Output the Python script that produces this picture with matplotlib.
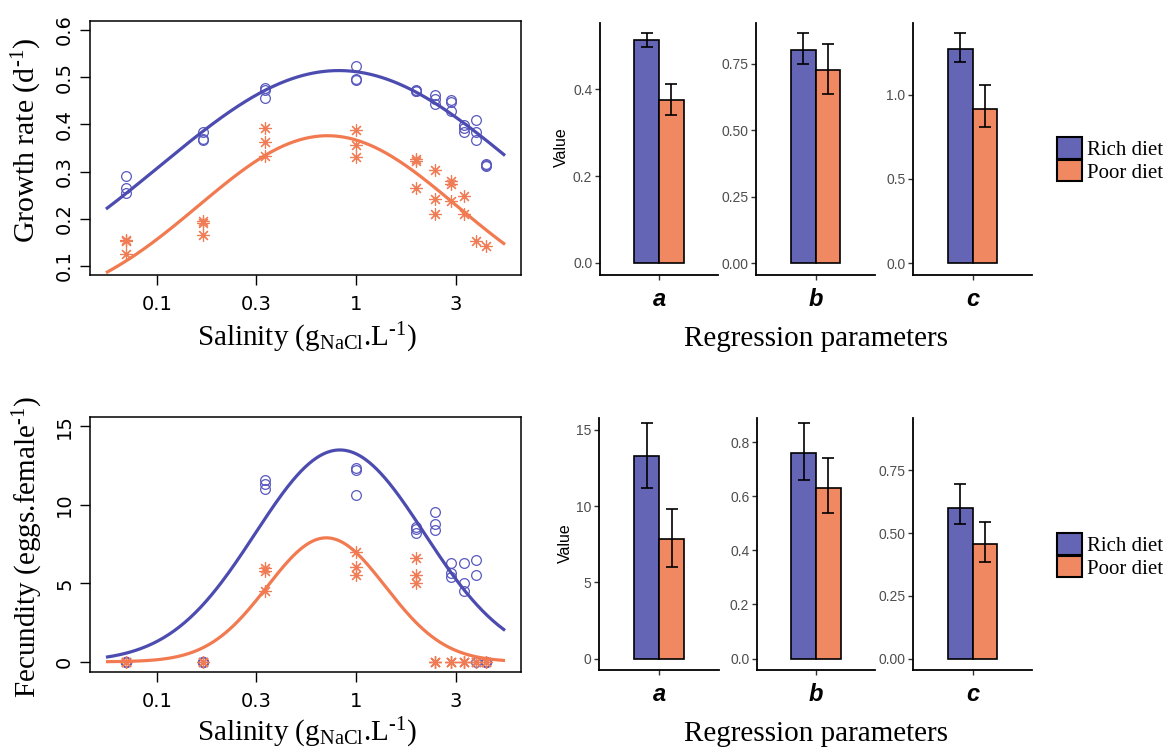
import numpy as np
import matplotlib
matplotlib.use("Agg")
import matplotlib.pyplot as plt
from matplotlib.patches import Patch

plt.rcParams["mathtext.fontset"] = "custom"
plt.rcParams["mathtext.rm"] = "Liberation Serif"
plt.rcParams["mathtext.it"] = "Liberation Serif:italic"

# ---------------- data ----------------
salinity = [0.07, 0.17, 0.35, 1, 2, 2.5, 3, 3.5, 4, 4.5]

growth_rich = [[0.290, 0.265, 0.255], [0.384, 0.370, 0.366], [0.478, 0.472, 0.455],
               [0.523, 0.497, 0.495], [0.473, 0.471, 0.470], [0.463, 0.454, 0.444],
               [0.452, 0.447, 0.429], [0.398, 0.393, 0.384], [0.409, 0.384, 0.366],
               [0.317, 0.312, 0.315]]
growth_poor = [[0.155, 0.152, 0.125], [0.196, 0.191, 0.166], [0.393, 0.363, 0.332],
               [0.388, 0.357, 0.330], [0.327, 0.323, 0.266], [0.303, 0.243, 0.210],
               [0.281, 0.274, 0.238], [0.248, 0.210], [0.153], [0.143]]

fec_rich = [[0, 0, 0], [0, 0, 0], [11.57, 11.30, 11.02], [12.36, 12.23, 10.62],
            [8.62, 8.45, 8.23], [9.53, 8.79, 8.40], [6.32, 5.68, 5.43],
            [6.32, 5.04, 4.49], [6.51, 5.51, 0], [0, 0, 0]]
fec_poor = [[0, 0, 0], [0, 0, 0], [6.00, 5.79, 4.51], [7.02, 6.06, 5.51],
            [6.62, 5.51, 5.00], [0, 0, 0], [0, 0, 0], [0, 0, 0], [0, 0, 0], [0, 0, 0]]

# regression parameters (estimate, lower, upper)
params = ["a", "b", "c"]
growth_est_rich = [0.514, 0.800, 1.271]
growth_lo_rich = [0.497, 0.749, 1.194]
growth_hi_rich = [0.529, 0.864, 1.365]
growth_est_poor = [0.376, 0.726, 0.915]
growth_lo_poor = [0.341, 0.636, 0.810]
growth_hi_poor = [0.412, 0.825, 1.056]

fec_est_rich = [13.30, 0.759, 0.602]
fec_lo_rich = [11.20, 0.661, 0.536]
fec_hi_rich = [15.45, 0.870, 0.697]
fec_est_poor = [7.85, 0.630, 0.456]
fec_lo_poor = [6.04, 0.538, 0.384]
fec_hi_poor = [9.80, 0.742, 0.546]

# fitted curves (a, b, c) used for the lines
fit_growth_rich = [0.514, 0.82, 1.271]
fit_growth_poor = [0.376, 0.72, 0.915]
fit_fec_rich = [13.5, 0.83, 0.60]
fit_fec_poor = [7.9, 0.71, 0.42]
curve_range = [0.0556, 5.6]

growth_ticks = [0.1, 0.2, 0.3, 0.4, 0.5, 0.6]
fec_ticks = [0, 5, 10, 15]
sal_ticks = [0.1, 0.3162, 1, 3.162]
sal_ticklabels = ["0.1", "0.3", "1", "3"]

# ---------------- style ----------------
C_LINE_RICH = "#4C4CB0"
C_LINE_POOR = "#F27A50"
C_PT_RICH = "#5858C0"
C_PT_POOR = "#F07C55"
C_BAR_RICH = "#6465B5"
C_BAR_POOR = "#F08962"
SERIF = "Liberation Serif"
SANS = "Liberation Sans"

W, H = 1169, 751
fig = plt.figure(figsize=(W / 100, H / 100), dpi=100)


def px_axes(x0, y0, x1, y1):
    return fig.add_axes([x0 / W, 1 - y1 / H, (x1 - x0) / W, (y1 - y0) / H])


def model(x, p):
    a, b, c = p
    return a * np.exp(-(np.log10(x / b)) ** 2 / c ** 2)


def scatter_panel(ax, rich, poor, fr, fp, yticks, ylim):
    for s, vals in zip(salinity, rich):
        ax.plot([s] * len(vals), vals, linestyle="none", marker="o", ms=7.0,
                mfc="none", mec=C_PT_RICH, mew=0.9)
    for s, vals in zip(salinity, poor):
        ax.plot([s] * len(vals), vals, linestyle="none", marker=(8, 2, 0), ms=9,
                mec=C_PT_POOR, mew=0.85)
    xs = np.logspace(np.log10(curve_range[0]), np.log10(curve_range[1]), 300)
    ax.plot(xs, model(xs, fr), color=C_LINE_RICH, lw=2.3, solid_capstyle="butt")
    ax.plot(xs, model(xs, fp), color=C_LINE_POOR, lw=2.3, solid_capstyle="butt")
    ax.set_xscale("log")
    lo, hi = np.log10(curve_range)
    pad = 0.04 * (hi - lo)
    ax.set_xlim(10 ** (lo - pad), 10 ** (hi + pad))
    ax.set_xticks(sal_ticks)
    ax.set_xticklabels(sal_ticklabels)
    ax.xaxis.set_minor_locator(matplotlib.ticker.NullLocator())
    ax.set_yticks(yticks)
    ax.set_ylim(*ylim)
    ax.tick_params(direction="out", length=7.5, width=1, labelsize=14)
    ax.tick_params(axis="x", pad=7)
    ax.tick_params(axis="y", pad=4)
    for t in ax.get_yticklabels():
        t.set_rotation(90)
        t.set_va("center")
    for sp in ax.spines.values():
        sp.set_linewidth(1.1)


ax1 = px_axes(90, 21, 521, 275)
scatter_panel(ax1, growth_rich, growth_poor, fit_growth_rich, fit_growth_poor,
              growth_ticks, (0.081, 0.619))
ax2 = px_axes(90, 417, 521, 672)
scatter_panel(ax2, fec_rich, fec_poor, fit_fec_rich, fit_fec_poor,
              fec_ticks, (-0.65, 15.6))

fig.text(27 / W, 1 - 141 / H, r"Growth rate (d$^{\text{-1}}$)", rotation=90, ha="center",
         va="center", family=SERIF, fontsize=21.5)
fig.text(28 / W, 1 - 547 / H, r"Fecundity (eggs.female$^{\text{-1}}$)", rotation=90,
         ha="center", va="center", family=SERIF, fontsize=21)
for yb in (346, 741):
    fig.text(307 / W, 1 - yb / H, r"Salinity (g$_{\mathrm{NaCl}}$.L$^{\text{-1}}$)",
             ha="center", va="baseline", family=SERIF, fontsize=21)
    fig.text(816 / W, 1 - yb / H, "Regression parameters", ha="center", va="baseline",
             family=SERIF, fontsize=21)


def bar_panel(ax, er, lr, hr, ep, lp, hp, name, ylim, yticks, ylabels):
    width = 0.25
    ax.bar([1 - width / 2], [er], width, color=C_BAR_RICH, edgecolor="black", lw=1.2,
           zorder=2)
    ax.bar([1 + width / 2], [ep], width, color=C_BAR_POOR, edgecolor="black", lw=1.2,
           zorder=2)
    ax.errorbar([1 - width / 2], [er], yerr=[[er - lr], [hr - er]], fmt="none",
                ecolor="black", elinewidth=1.2, capsize=4, capthick=1.2, zorder=3)
    ax.errorbar([1 + width / 2], [ep], yerr=[[ep - lp], [hp - ep]], fmt="none",
                ecolor="black", elinewidth=1.2, capsize=4, capthick=1.2, zorder=3)
    ax.set_xlim(0.4, 1.6)
    ax.set_ylim(*ylim)
    ax.set_xticks([1])
    ax.set_xticklabels([name], family=SANS, fontsize=17, fontweight="bold",
                       fontstyle="italic")
    ax.set_yticks(yticks)
    ax.set_yticklabels(ylabels, family=SANS, fontsize=10, color="#4D4D4D")
    ax.tick_params(axis="both", direction="out", length=3.5, width=1, color="#333333")
    ax.tick_params(axis="x", pad=6)
    ax.tick_params(axis="y", pad=2)
    for s in ("top", "right"):
        ax.spines[s].set_visible(False)
    for s in ("left", "bottom"):
        ax.spines[s].set_linewidth(1.3)


top_x = [(600, 718), (756, 875), (913, 1032)]
bot_x = [(599, 719), (757, 875), (913, 1032)]
top_ylims = [(-0.028, 0.553), (-0.045, 0.903), (-0.071, 1.426)]
bot_ylims = [(-0.74, 15.77), (-0.042, 0.889), (-0.045, 0.959)]
top_ticks = [([0.0, 0.2, 0.4], ["0.0", "0.2", "0.4"]),
             ([0.0, 0.25, 0.5, 0.75], ["0.00", "0.25", "0.50", "0.75"]),
             ([0.0, 0.5, 1.0], ["0.0", "0.5", "1.0"])]
bot_ticks = [([0, 5, 10, 15], ["0", "5", "10", "15"]),
             ([0.0, 0.2, 0.4, 0.6, 0.8], ["0.0", "0.2", "0.4", "0.6", "0.8"]),
             ([0.0, 0.25, 0.5, 0.75], ["0.00", "0.25", "0.50", "0.75"])]

for i in range(3):
    ax = px_axes(top_x[i][0], 23, top_x[i][1], 275)
    bar_panel(ax, growth_est_rich[i], growth_lo_rich[i], growth_hi_rich[i],
              growth_est_poor[i], growth_lo_poor[i], growth_hi_poor[i], params[i],
              top_ylims[i], *top_ticks[i])
    ax = px_axes(bot_x[i][0], 418, bot_x[i][1], 670)
    bar_panel(ax, fec_est_rich[i], fec_lo_rich[i], fec_hi_rich[i],
              fec_est_poor[i], fec_lo_poor[i], fec_hi_poor[i], params[i],
              bot_ylims[i], *bot_ticks[i])

fig.text(561 / W, 1 - 147 / H, "Value", rotation=90, ha="center", va="center",
         family=SANS, fontsize=11.5)
fig.text(565 / W, 1 - 543 / H, "Value", rotation=90, ha="center", va="center",
         family=SANS, fontsize=11.5)

handles = [Patch(facecolor=C_BAR_RICH, edgecolor="black", lw=1.5, label="Rich diet"),
           Patch(facecolor=C_BAR_POOR, edgecolor="black", lw=1.5, label="Poor diet")]
for yc in (160, 556):
    fig.legend(handles=handles, loc="center left", bbox_to_anchor=(1057 / W, 1 - yc / H),
               frameon=False, prop={"family": SERIF, "size": 15}, handlelength=1.2,
               handleheight=1.2, labelspacing=0.0, handletextpad=0.25, borderpad=0,
               borderaxespad=0)

fig.savefig("out.png", dpi=100)
